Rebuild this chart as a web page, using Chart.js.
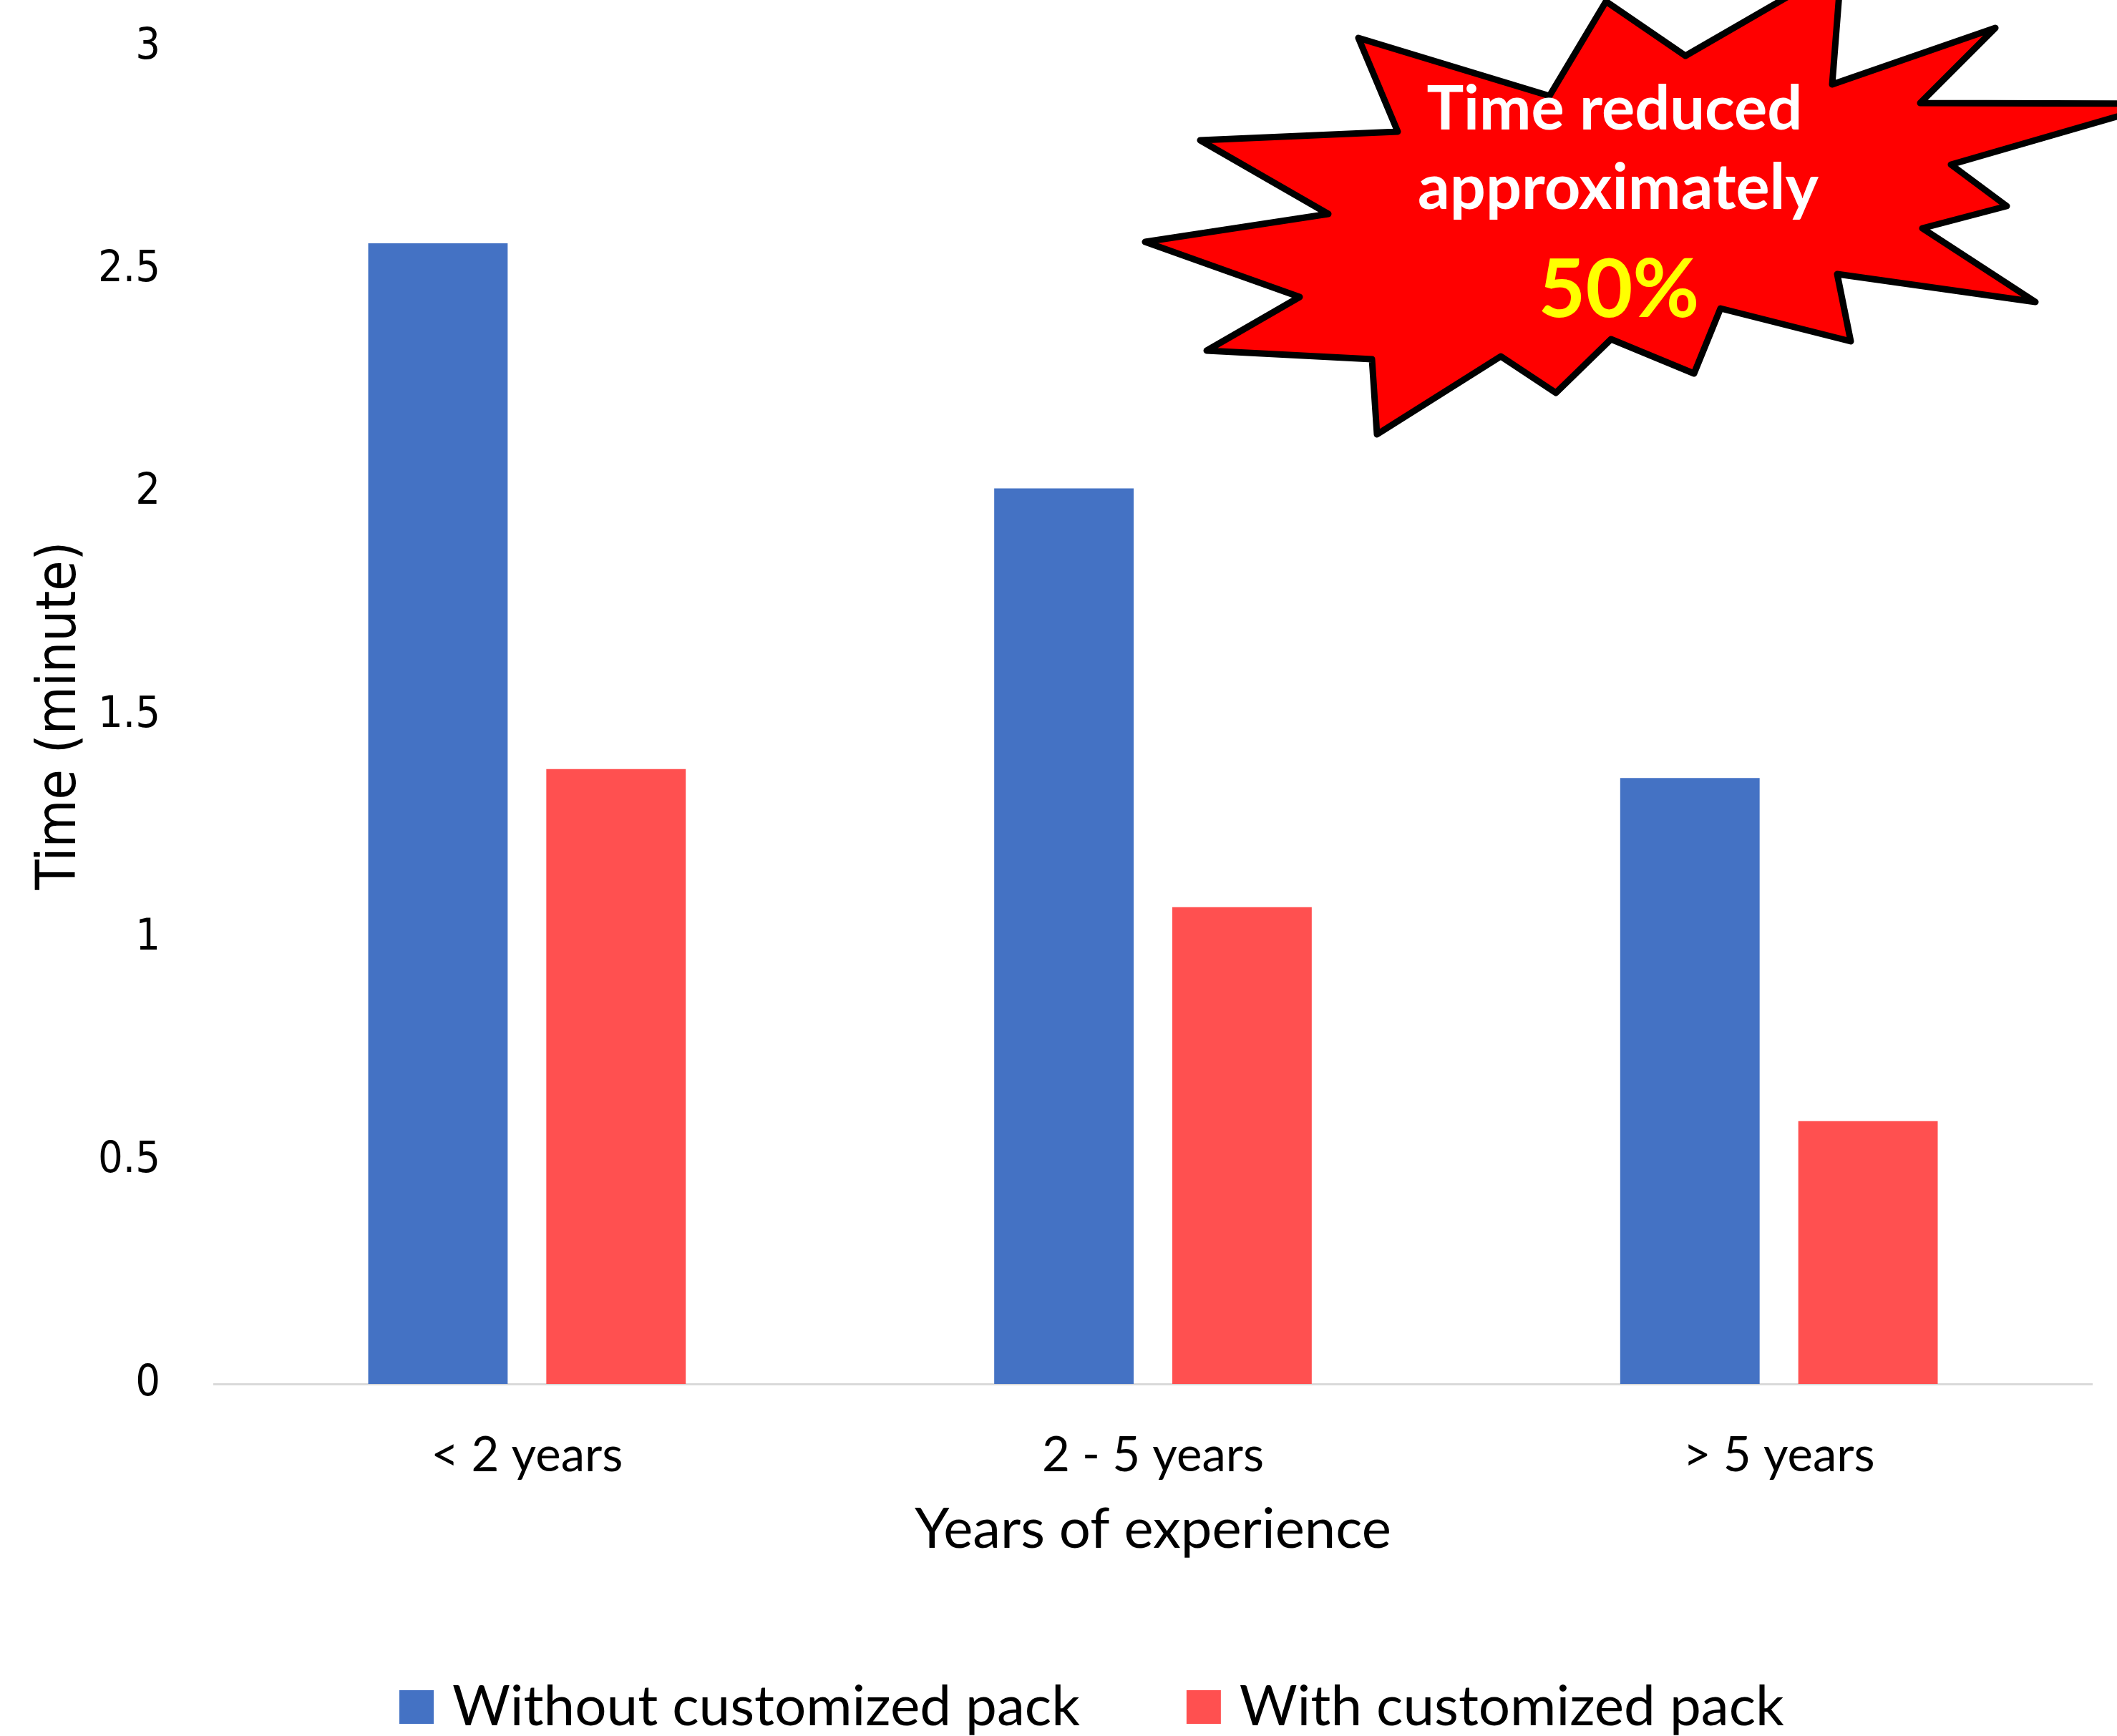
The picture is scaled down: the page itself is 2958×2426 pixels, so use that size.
<!DOCTYPE html>
<html><head><meta charset="utf-8">
<script src="https://cdn.jsdelivr.net/npm/chart.js@4.4.1/dist/chart.umd.min.js"></script>
<style>html,body{margin:0;padding:0;background:#fff;overflow:hidden}#c{display:block}</style>
</head><body>
<canvas id="c" width="2958" height="2426" style="width:2958px;height:2426px"></canvas>
<script>
// ---- data ----
const categories = ['< 2 years', '2 - 5 years', '> 5 years'];
const withoutPack = [2.56, 2.01, 1.36];
const withPack = [1.38, 1.07, 0.59];
const seriesNames = ['Without customized pack', 'With customized pack'];
const seriesColors = ['#4472C4', '#FF5050'];
const yTickValues = [0, 0.5, 1, 1.5, 2, 2.5, 3];
const yTickLabels = ['0', '0.5', '1', '1.5', '2', '2.5', '3'];
const xTitle = 'Years of experience';
const yTitle = 'Time (minute)';
const calloutLines = ['Time reduced', 'approximately', '50%'];

// ---- fonts ----
const CAL = 'Lato, "Open Sans", sans-serif';
const TAH = '"DejaVu Sans Condensed", "DejaVu Sans", sans-serif';
const mctx = document.createElement('canvas').getContext('2d');
function fit(text, family, weight, target) {
  mctx.font = weight + ' 100px ' + family;
  return 100 * target / mctx.measureText(text).width;
}
function baseOffset(size, family, weight, mode) {
  mctx.font = weight + ' ' + size + 'px ' + family;
  mctx.textBaseline = 'alphabetic';
  const a = mctx.measureText('H').actualBoundingBoxAscent;
  mctx.textBaseline = mode;
  const b = mctx.measureText('H').actualBoundingBoxAscent;
  mctx.textBaseline = 'alphabetic';
  return a - b;
}
const xTickSize = fit(categories[0], CAL, 'normal', 268);
const xTitleSize = fit(xTitle, CAL, 'normal', 666);
const legendSize = fit(seriesNames[0], CAL, 'normal', 877);
const yTickSize = fit('2.5', TAH, 'normal', 87);
const yTitleSize = fit(yTitle, TAH, 'normal', 487);
const c1 = fit(calloutLines[0], CAL, 'bold', 525);
const c2 = fit(calloutLines[1], CAL, 'bold', 560);
const c3 = fit(calloutLines[2], CAL, 'bold', 225);

const PLOT_TOP = 66, PLOT_BOTTOM = 1934, PLOT_LEFT = 299, PLOT_RIGHT = 2923, H = 2426, W = 2958;
const xTickPad = 2049 - PLOT_BOTTOM - baseOffset(xTickSize, CAL, 'normal', 'top');
const xTitlePadBottom = H - xTitleSize * 1.2 / 2 - (2163 - baseOffset(xTitleSize, CAL, 'normal', 'middle'));
const yTitlePadTop = (105 - baseOffset(yTitleSize, TAH, 'normal', 'middle')) - yTitleSize * 1.2 / 2;

const starPts = [[1898,53],[2165,134],[2244,2],[2355,78],[2573,-48],[2560,118],[2788,39],[2683,144],[3020,145],[2726,230],[2804,288],[2686,319],[2844,422],[2567,383],[2586,477],[2404,431],[2367,522],[2251,474],[2174,549],[2097,498],[1924,607],[1917,502],[1686,490],[1816,415],[1600,338],[1856,299],[1677,196],[1953,184]];

const decor = {
  id: 'decor',
  afterDraw(chart) {
    const ctx = chart.ctx;
    ctx.save();
    const ds = chart.data.datasets;
    let x = 558;
    ctx.font = legendSize + 'px ' + CAL;
    ctx.textBaseline = 'alphabetic';
    ctx.textAlign = 'left';
    ds.forEach((d) => {
      ctx.fillStyle = d.backgroundColor;
      ctx.fillRect(x, 2362, 48, 47);
      x += 48 + 26;
      ctx.fillStyle = '#000';
      ctx.fillText(d.label, x, 2411);
      x += ctx.measureText(d.label).width + 149;
    });
    ctx.beginPath();
    starPts.forEach((p, i) => i ? ctx.lineTo(p[0], p[1]) : ctx.moveTo(p[0], p[1]));
    ctx.closePath();
    ctx.fillStyle = '#FF0000';
    ctx.fill();
    ctx.lineWidth = 9;
    ctx.lineJoin = 'round';
    ctx.strokeStyle = '#000';
    ctx.stroke();
    ctx.textAlign = 'center';
    ctx.fillStyle = '#FFFFFF';
    ctx.font = 'bold ' + c1 + 'px ' + CAL;
    ctx.fillText(calloutLines[0], 2256, 181);
    ctx.font = 'bold ' + c2 + 'px ' + CAL;
    ctx.fillText(calloutLines[1], 2261, 292);
    ctx.fillStyle = '#FFFF00';
    ctx.font = 'bold ' + c3 + 'px ' + CAL;
    ctx.fillText(calloutLines[2], 2262, 443);
    ctx.restore();
  }
};

const chart = new Chart(document.getElementById('c'), {
  type: 'bar',
  data: {
    labels: categories,
    datasets: [
      { label: seriesNames[0], data: withoutPack, backgroundColor: seriesColors[0], borderWidth: 0 },
      { label: seriesNames[1], data: withPack, backgroundColor: seriesColors[1], borderWidth: 0 }
    ]
  },
  options: {
    responsive: false,
    devicePixelRatio: 1,
    animation: false,
    datasets: { bar: { categoryPercentage: 0.569, barPercentage: 0.783 } },
    layout: { padding: { top: PLOT_TOP, right: W - PLOT_RIGHT, bottom: 0, left: 0 } },
    plugins: { legend: { display: false }, tooltip: { enabled: false }, title: { display: false } },
    scales: {
      x: {
        grid: { display: false, drawTicks: false },
        border: { display: true, color: '#D9D9D9', width: 3 },
        ticks: { color: '#000', font: { family: CAL, size: xTickSize }, padding: xTickPad, maxRotation: 0, autoSkip: false },
        title: { display: true, text: xTitle, color: '#000', font: { family: CAL, size: xTitleSize }, padding: { top: 0, bottom: xTitlePadBottom } },
        afterFit(s) { s.height = H - PLOT_BOTTOM; s.paddingLeft = 0; s.paddingRight = 0; }
      },
      y: {
        min: 0, max: 3,
        grid: { display: false, drawTicks: false },
        border: { display: false },
        afterBuildTicks(s) { s.ticks = yTickValues.map(v => ({ value: v })); },
        ticks: {
          color: '#000', font: { family: TAH, size: yTickSize }, padding: 75,
          callback(value) { const i = yTickValues.indexOf(value); return i >= 0 ? yTickLabels[i] : String(value); }
        },
        title: { display: true, text: yTitle, color: '#000', font: { family: TAH, size: yTitleSize }, padding: { top: yTitlePadTop, bottom: 0 } },
        afterFit(s) { s.width = PLOT_LEFT; s.paddingTop = 0; s.paddingBottom = 0; }
      }
    }
  },
  plugins: [decor]
});
</script>
</body></html>
